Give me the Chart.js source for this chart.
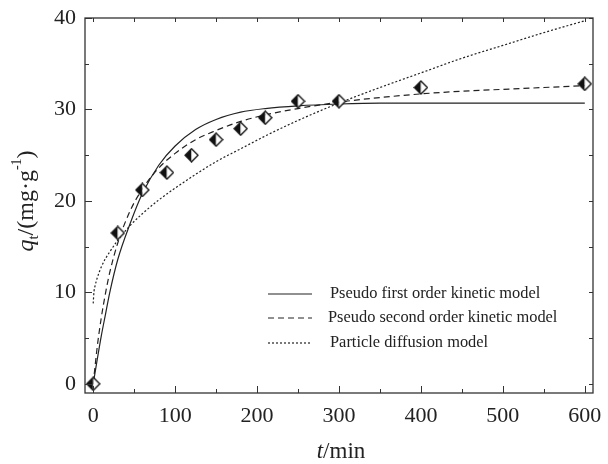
<!DOCTYPE html>
<html>
<head>
<meta charset="utf-8">
<script src="https://cdn.jsdelivr.net/npm/chart.js@4.4.1/dist/chart.umd.min.js"></script>
<style>
  html, body { margin: 0; padding: 0; background: #fff; }
</style>
</head>
<body>
<canvas id="chart" width="608" height="464"></canvas>
<script>
// measured adsorption data
const timeObs = [0, 30, 60, 90, 120, 150, 180, 210, 250, 300, 400, 600];
const qObs = [0, 16.5, 21.2, 23.1, 25.0, 26.7, 27.9, 29.1, 30.9, 30.9, 32.4, 32.8];

// fitted curves
const timeFit = [0, 5, 10, 15, 20, 30, 45, 60, 80, 100, 125, 150, 180, 210, 250, 300, 350, 400, 450, 500, 550, 600];
const qFirstOrder = [0, 2.7, 5.3, 7.6, 9.9, 13.6, 17.5, 20.8, 23.9, 26.0, 27.8, 28.9, 29.7, 30.1, 30.4, 30.6, 30.7, 30.7, 30.7, 30.7, 30.7, 30.7];
const qSecondOrder = [0, 4.1, 7.3, 9.9, 12.1, 15.4, 18.9, 21.3, 23.6, 25.2, 26.7, 27.7, 28.7, 29.4, 30.1, 30.8, 31.3, 31.7, 32.0, 32.2, 32.4, 32.6];

const timeDiff = [0, 1, 2, 5, 10, 15, 20, 30, 45, 60, 80, 100, 125, 150, 180, 210, 250, 300, 350, 400, 450, 500, 550, 600];
const qDiffusion = [8.8, 10.1, 10.6, 11.6, 12.8, 13.7, 14.4, 15.7, 17.3, 18.6, 20.1, 21.4, 22.9, 24.3, 25.7, 27.1, 28.8, 30.7, 32.4, 34.0, 35.6, 37.0, 38.4, 39.7];

const seriesLabels = ["Pseudo first order kinetic model", "Pseudo second order kinetic model", "Particle diffusion model"];

const xTicks = [0, 100, 200, 300, 400, 500, 600];
const xMinor = [50, 150, 250, 350, 450, 550];
const yTicks = [0, 10, 20, 30, 40];
const yMinor = [5, 15, 25, 35];

const SERIF = "'Liberation Serif', 'DejaVu Serif', serif";
const INK = "#222";

const toPoints = (xs, ys) => xs.map((x, i) => ({ x: x, y: ys[i] }));

// half filled diamond marker
const diamond = (() => {
    const c = document.createElement("canvas");
    c.width = 15;
    c.height = 15;
    const g = c.getContext("2d");
    g.beginPath();
    g.moveTo(7.5, 1);
    g.lineTo(1, 7.5);
    g.lineTo(7.5, 14);
    g.closePath();
    g.fillStyle = "#111";
    g.fill();
    g.beginPath();
    g.moveTo(7.5, 1);
    g.lineTo(14, 7.5);
    g.lineTo(7.5, 14);
    g.closePath();
    g.fillStyle = "#fff";
    g.fill();
    g.beginPath();
    g.moveTo(7.5, 1);
    g.lineTo(14, 7.5);
    g.lineTo(7.5, 14);
    g.lineTo(1, 7.5);
    g.closePath();
    g.lineWidth = 1.3;
    g.strokeStyle = "#111";
    g.stroke();
    return c;
})();

const lineDataset = (label, xs, ys, dash) => ({
    label: label,
    data: toPoints(xs, ys),
    showLine: true,
    borderColor: "#222",
    borderWidth: 1.2,
    borderDash: dash,
    pointRadius: 0,
    cubicInterpolationMode: "monotone",
    fill: false,
    order: 1,
});

const framePlugin = {
    id: "frame",
    afterDraw(chart) {
        const ctx = chart.ctx;
        const a = chart.chartArea;
        const xs = chart.scales.x;
        const ys = chart.scales.y;
        ctx.save();
        ctx.strokeStyle = "#333";
        ctx.lineWidth = 1.3;
        ctx.strokeRect(a.left, a.top, a.right - a.left, a.bottom - a.top);
        ctx.lineWidth = 1;
        ctx.beginPath();
        const xTick = (v, len, lenTop) => {
            const px = Math.round(xs.getPixelForValue(v)) + 0.5;
            ctx.moveTo(px, a.bottom);
            ctx.lineTo(px, a.bottom - len);
            ctx.moveTo(px, a.top);
            ctx.lineTo(px, a.top + lenTop);
        };
        const yTick = (v, len, lenRight) => {
            const py = Math.round(ys.getPixelForValue(v)) + 0.5;
            ctx.moveTo(a.left, py);
            ctx.lineTo(a.left + len, py);
            ctx.moveTo(a.right, py);
            ctx.lineTo(a.right - lenRight, py);
        };
        xTicks.forEach((v) => xTick(v, 7, 4));
        xMinor.forEach((v) => xTick(v, 4, 4));
        yTicks.forEach((v) => yTick(v, 7, 4));
        yMinor.forEach((v) => yTick(v, 4, 4));
        ctx.stroke();

        // legend
        const legendX = 268;
        const sampleLen = 44;
        const textX = 330;
        const rowY = [294, 318, 343];
        ctx.font = "16.4px " + SERIF;
        ctx.fillStyle = INK;
        ctx.textBaseline = "middle";
        ctx.textAlign = "left";
        chart.data.datasets.forEach((ds, i) => {
            if (!ds.showLine) return;
            ctx.beginPath();
            ctx.setLineDash(ds.borderDash || []);
            ctx.lineWidth = 1.2;
            ctx.strokeStyle = "#222";
            ctx.moveTo(legendX, rowY[i]);
            ctx.lineTo(legendX + sampleLen, rowY[i]);
            ctx.stroke();
            ctx.setLineDash([]);
            ctx.fillText(ds.label, textX - (i === 1 ? 2 : 0), rowY[i]);
        });

        // axis titles
        const drawRuns = (runs, cx, cy) => {
            let total = 0;
            runs.forEach((r) => {
                ctx.font = r.font;
                r.w = ctx.measureText(r.text).width;
                total += r.w;
            });
            let x = cx - total / 2;
            runs.forEach((r) => {
                ctx.font = r.font;
                ctx.fillText(r.text, x, cy + (r.dy || 0));
                x += r.w;
            });
        };
        ctx.textBaseline = "middle";
        drawRuns([
            { text: "t", font: "italic 23px " + SERIF },
            { text: "/min", font: "23px " + SERIF },
        ], 341, 452);

        ctx.save();
        ctx.translate(27, 201);
        ctx.rotate(-Math.PI / 2);
        drawRuns([
            { text: "q", font: "italic 24px " + SERIF },
            { text: "t", font: "15px " + SERIF, dy: 7 },
            { text: "/(mg\u00b7g", font: "24px " + SERIF },
            { text: "-1", font: "14px " + SERIF, dy: -10 },
            { text: ")", font: "24px " + SERIF },
        ], 0, 0);
        ctx.restore();
        ctx.restore();
    },
};

new Chart(document.getElementById("chart").getContext("2d"), {
    type: "scatter",
    data: {
        datasets: [
            lineDataset(seriesLabels[0], timeFit, qFirstOrder, []),
            lineDataset(seriesLabels[1], timeFit, qSecondOrder, [6, 4]),
            lineDataset(seriesLabels[2], timeDiff, qDiffusion, [2, 2]),
            {
                label: "Experimental",
                data: toPoints(timeObs, qObs),
                pointStyle: diamond,
                pointRadius: 7,
                showLine: false,
                order: 0,
            },
        ],
    },
    options: {
        responsive: false,
        animation: false,
        layout: { padding: { left: 0, top: 18, right: 15, bottom: 0 } },
        plugins: {
            legend: { display: false },
            tooltip: { enabled: false },
        },
        scales: {
            x: {
                type: "linear",
                min: -10,
                max: 610,
                grid: { display: false, drawTicks: false },
                border: { display: false },
                afterBuildTicks: (scale) => {
                    scale.ticks = xTicks.map((v) => ({ value: v }));
                },
                afterFit: (scale) => {
                    scale.height = 71;
                    scale.paddingLeft = 0;
                    scale.paddingRight = 0;
                },
                ticks: {
                    padding: 10,
                    maxRotation: 0,
                    color: INK,
                    font: { family: SERIF, size: 22 },
                },
            },
            y: {
                type: "linear",
                min: -1,
                max: 40,
                grid: { display: false, drawTicks: false },
                border: { display: false },
                afterBuildTicks: (scale) => {
                    scale.ticks = yTicks.map((v) => ({ value: v }));
                },
                afterFit: (scale) => {
                    scale.width = 85;
                    scale.paddingTop = 0;
                    scale.paddingBottom = 0;
                },
                ticks: {
                    padding: 9,
                    color: INK,
                    font: { family: SERIF, size: 22 },
                },
            },
        },
    },
    plugins: [framePlugin],
});
</script>
</body>
</html>
